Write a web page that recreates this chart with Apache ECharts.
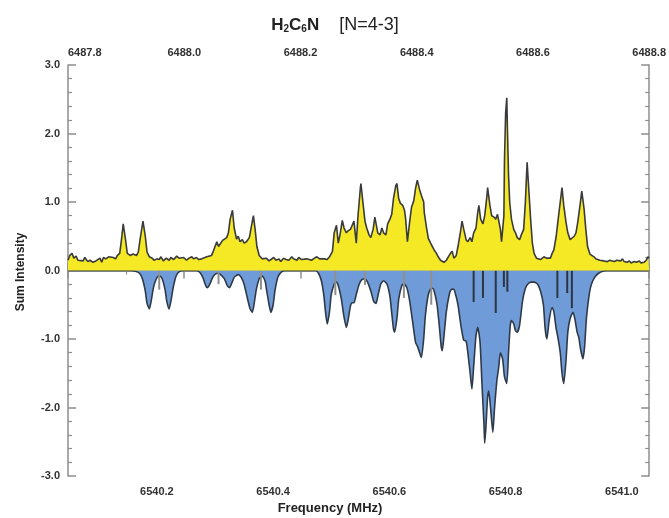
<!DOCTYPE html>
<html><head><meta charset="utf-8">
<script src="https://cdn.jsdelivr.net/npm/echarts@6/dist/echarts.min.js"></script>
<style>html,body{margin:0;padding:0;background:#fff}#c{width:669px;height:518px}</style>
</head><body><div id="c"></div>
<script>
// ---- data ----
const bottomRange = [6540.047, 6541.047];   // Frequency (MHz), lower axis
const topRange = [6487.8, 6488.8];          // upper axis
const intensityRange = [-3, 3];

const obsFreq = [6540.047,6540.050,6540.054,6540.057,6540.061,6540.064,6540.067,6540.073,6540.076,6540.081,6540.085,6540.090,6540.095,6540.098,6540.102,6540.105,6540.108,6540.112,6540.117,6540.120,6540.125,6540.129,6540.132,6540.136,6540.139,6540.142,6540.146,6540.149,6540.154,6540.159,6540.165,6540.168,6540.171,6540.176,6540.180,6540.183,6540.187,6540.192,6540.195,6540.200,6540.204,6540.207,6540.211,6540.216,6540.221,6540.224,6540.229,6540.234,6540.238,6540.241,6540.246,6540.251,6540.255,6540.260,6540.263,6540.268,6540.272,6540.277,6540.280,6540.286,6540.289,6540.294,6540.297,6540.303,6540.306,6540.309,6540.313,6540.316,6540.320,6540.323,6540.326,6540.330,6540.333,6540.337,6540.340,6540.343,6540.347,6540.350,6540.354,6540.359,6540.362,6540.366,6540.369,6540.372,6540.376,6540.381,6540.384,6540.388,6540.393,6540.396,6540.401,6540.405,6540.410,6540.413,6540.418,6540.422,6540.427,6540.432,6540.435,6540.441,6540.444,6540.449,6540.452,6540.458,6540.461,6540.466,6540.471,6540.475,6540.480,6540.483,6540.488,6540.493,6540.497,6540.502,6540.505,6540.509,6540.512,6540.515,6540.519,6540.522,6540.526,6540.529,6540.533,6540.536,6540.539,6540.543,6540.546,6540.550,6540.551,6540.555,6540.558,6540.561,6540.565,6540.568,6540.572,6540.575,6540.577,6540.580,6540.584,6540.587,6540.590,6540.594,6540.597,6540.601,6540.604,6540.607,6540.611,6540.613,6540.616,6540.619,6540.623,6540.626,6540.628,6540.631,6540.635,6540.638,6540.642,6540.645,6540.648,6540.652,6540.655,6540.659,6540.660,6540.664,6540.667,6540.671,6540.674,6540.677,6540.681,6540.684,6540.688,6540.691,6540.694,6540.698,6540.701,6540.705,6540.708,6540.711,6540.715,6540.718,6540.722,6540.725,6540.728,6540.732,6540.735,6540.739,6540.742,6540.745,6540.749,6540.752,6540.754,6540.757,6540.761,6540.764,6540.768,6540.769,6540.773,6540.776,6540.780,6540.783,6540.786,6540.788,6540.791,6540.793,6540.797,6540.798,6540.800,6540.802,6540.803,6540.805,6540.807,6540.810,6540.814,6540.817,6540.820,6540.824,6540.827,6540.831,6540.834,6540.836,6540.837,6540.839,6540.843,6540.846,6540.849,6540.853,6540.856,6540.860,6540.863,6540.866,6540.870,6540.873,6540.877,6540.880,6540.883,6540.887,6540.890,6540.894,6540.897,6540.900,6540.904,6540.907,6540.911,6540.914,6540.918,6540.921,6540.924,6540.928,6540.931,6540.935,6540.938,6540.941,6540.945,6540.948,6540.952,6540.955,6540.958,6540.962,6540.965,6540.969,6540.972,6540.975,6540.979,6540.982,6540.987,6540.991,6540.994,6540.998,6541.001,6541.004,6541.009,6541.013,6541.016,6541.021,6541.025,6541.030,6541.033,6541.038,6541.042,6541.045,6541.047];
const obsIntensity = [0.15,0.22,0.25,0.18,0.21,0.15,0.17,0.14,0.19,0.13,0.15,0.12,0.14,0.13,0.18,0.12,0.19,0.17,0.20,0.18,0.19,0.17,0.22,0.25,0.45,0.68,0.45,0.25,0.22,0.24,0.22,0.27,0.45,0.72,0.50,0.27,0.20,0.18,0.15,0.17,0.16,0.20,0.14,0.18,0.15,0.19,0.16,0.21,0.18,0.16,0.19,0.15,0.18,0.20,0.17,0.19,0.16,0.17,0.16,0.20,0.21,0.22,0.28,0.42,0.35,0.33,0.44,0.45,0.48,0.55,0.75,0.88,0.62,0.46,0.50,0.42,0.45,0.40,0.42,0.48,0.62,0.80,0.60,0.35,0.22,0.17,0.15,0.18,0.14,0.16,0.19,0.15,0.17,0.13,0.18,0.16,0.15,0.20,0.17,0.15,0.19,0.16,0.14,0.17,0.18,0.15,0.18,0.20,0.17,0.15,0.17,0.16,0.20,0.28,0.55,0.66,0.40,0.52,0.73,0.62,0.55,0.58,0.60,0.66,0.72,0.40,0.80,1.20,1.27,0.95,0.72,0.62,0.52,0.48,0.60,0.78,0.80,0.55,0.52,0.62,0.55,0.52,0.68,0.75,0.82,1.05,1.24,1.27,1.05,0.98,0.95,0.88,0.75,0.42,0.72,0.92,1.02,1.20,1.32,1.18,1.10,1.00,0.85,0.62,0.47,0.40,0.35,0.30,0.25,0.20,0.15,0.14,0.12,0.15,0.13,0.25,0.28,0.18,0.22,0.35,0.55,0.72,0.60,0.45,0.42,0.48,0.42,0.55,0.62,0.85,0.95,0.75,0.68,0.80,1.10,1.21,0.95,0.80,0.78,0.75,0.82,0.84,0.60,0.42,0.80,1.60,2.30,2.52,2.10,1.40,1.00,0.75,0.60,0.55,0.48,0.45,0.52,0.60,1.00,1.40,1.58,1.30,0.75,0.40,0.25,0.18,0.20,0.16,0.17,0.20,0.18,0.16,0.18,0.25,0.30,0.50,0.72,1.00,1.21,0.95,0.70,0.55,0.45,0.44,0.50,0.55,0.70,0.95,1.16,0.90,0.60,0.35,0.24,0.22,0.20,0.17,0.18,0.15,0.16,0.14,0.15,0.13,0.15,0.14,0.13,0.15,0.13,0.14,0.17,0.13,0.12,0.14,0.11,0.13,0.12,0.14,0.11,0.12,0.15,0.20,0.18];

const simFreq = [6540.047,6540.153,6540.163,6540.170,6540.175,6540.180,6540.183,6540.187,6540.190,6540.194,6540.199,6540.204,6540.209,6540.214,6540.217,6540.221,6540.224,6540.228,6540.233,6540.238,6540.246,6540.268,6540.274,6540.279,6540.284,6540.287,6540.291,6540.296,6540.301,6540.306,6540.311,6540.316,6540.321,6540.325,6540.328,6540.333,6540.340,6540.345,6540.350,6540.355,6540.360,6540.364,6540.367,6540.371,6540.376,6540.381,6540.386,6540.389,6540.393,6540.396,6540.400,6540.403,6540.408,6540.413,6540.420,6540.473,6540.478,6540.483,6540.487,6540.490,6540.493,6540.497,6540.500,6540.505,6540.509,6540.512,6540.517,6540.522,6540.526,6540.529,6540.533,6540.536,6540.539,6540.543,6540.548,6540.553,6540.558,6540.563,6540.568,6540.573,6540.577,6540.580,6540.585,6540.590,6540.596,6540.601,6540.604,6540.607,6540.609,6540.613,6540.616,6540.621,6540.625,6540.630,6540.635,6540.640,6540.645,6540.648,6540.652,6540.655,6540.659,6540.662,6540.667,6540.671,6540.674,6540.677,6540.682,6540.686,6540.689,6540.691,6540.694,6540.698,6540.703,6540.706,6540.710,6540.713,6540.718,6540.723,6540.728,6540.732,6540.735,6540.739,6540.742,6540.745,6540.749,6540.752,6540.756,6540.759,6540.763,6540.764,6540.766,6540.769,6540.771,6540.774,6540.778,6540.781,6540.785,6540.788,6540.791,6540.795,6540.798,6540.802,6540.805,6540.808,6540.810,6540.814,6540.817,6540.820,6540.824,6540.829,6540.834,6540.839,6540.844,6540.849,6540.855,6540.860,6540.865,6540.868,6540.871,6540.875,6540.880,6540.883,6540.887,6540.890,6540.894,6540.897,6540.900,6540.904,6540.907,6540.911,6540.916,6540.919,6540.923,6540.926,6540.929,6540.933,6540.936,6540.939,6540.943,6540.946,6540.950,6540.955,6540.960,6540.967,6540.974,6541.047];
const simIntensity = [0,0,-0.01,-0.04,-0.12,-0.30,-0.48,-0.56,-0.45,-0.25,-0.12,-0.07,-0.12,-0.28,-0.45,-0.56,-0.45,-0.25,-0.08,-0.02,0,0,-0.03,-0.10,-0.22,-0.25,-0.20,-0.10,-0.05,-0.04,-0.07,-0.12,-0.22,-0.25,-0.20,-0.10,-0.06,-0.10,-0.20,-0.38,-0.55,-0.61,-0.50,-0.28,-0.12,-0.08,-0.15,-0.30,-0.50,-0.61,-0.50,-0.30,-0.10,-0.03,0,0,-0.04,-0.15,-0.35,-0.60,-0.78,-0.60,-0.35,-0.20,-0.17,-0.22,-0.40,-0.68,-0.83,-0.72,-0.52,-0.47,-0.47,-0.35,-0.20,-0.13,-0.12,-0.18,-0.30,-0.45,-0.48,-0.38,-0.20,-0.15,-0.20,-0.38,-0.62,-0.85,-0.90,-0.70,-0.42,-0.23,-0.19,-0.25,-0.45,-0.75,-1.05,-1.10,-1.20,-1.27,-1.00,-0.65,-0.35,-0.27,-0.26,-0.30,-0.50,-0.82,-1.10,-1.17,-0.95,-0.60,-0.35,-0.28,-0.27,-0.32,-0.50,-0.80,-1.02,-1.03,-1.20,-1.50,-1.73,-1.40,-0.95,-0.83,-1.05,-1.60,-2.30,-2.52,-2.30,-1.85,-1.76,-2.00,-2.36,-2.00,-1.60,-1.42,-1.20,-1.30,-1.55,-1.65,-1.20,-0.80,-0.73,-0.78,-0.88,-0.90,-0.80,-0.45,-0.26,-0.19,-0.17,-0.17,-0.20,-0.30,-0.50,-0.85,-1.00,-0.72,-0.54,-0.60,-0.85,-0.98,-1.20,-1.50,-1.65,-1.30,-0.90,-0.70,-0.61,-0.70,-0.90,-0.98,-1.15,-1.29,-1.10,-0.70,-0.40,-0.25,-0.15,-0.08,-0.04,-0.01,0,0];

const stickFreqDark = [6540.745,6540.761,6540.783,6540.797,6540.803,6540.889,6540.906,6540.914];
const stickDepthDark = [-0.46,-0.40,-0.62,-0.24,-0.31,-0.40,-0.33,-0.55];
const stickFreqGray = [6540.204,6540.306,6540.379,6540.507,6540.558,6540.625,6540.672];
const stickDepthGray = [-0.28,-0.20,-0.28,-0.36,-0.21,-0.40,-0.50];

// ---- chart ----
const zip = (a, b) => a.map((v, i) => [v, b[i]]);
const FONT = '"Liberation Sans Narrow","Liberation Sans",Arial,sans-serif';
const AX = '#8e8e8e';
const lbl = {color: '#333', fontWeight: 'bold', fontSize: 11, fontFamily: FONT};

const chart = echarts.init(document.getElementById('c'), null, {renderer: 'canvas'});
chart.setOption({
  animation: false,
  backgroundColor: '#fff',
  grid: {left: 68, right: 14, top: 65, bottom: 42},
  xAxis: [
    {type: 'value', position: 'bottom', min: bottomRange[0], max: bottomRange[1], splitNumber: 5,
     axisLine: {lineStyle: {color: AX, width: 1.5}},
     axisTick: {inside: true, length: 8, lineStyle: {color: AX, width: 1.5}},
     minorTick: {show: true, splitNumber: 2, length: 4, lineStyle: {color: AX, width: 1.2}},
     splitLine: {show: false},
     axisLabel: Object.assign({margin: 10, showMinLabel: false, showMaxLabel: false, formatter: v => v.toFixed(1)}, lbl)},
    {type: 'value', position: 'top', min: topRange[0], max: topRange[1], interval: 0.2,
     axisLine: {lineStyle: {color: AX, width: 1.5}},
     axisTick: {inside: true, length: 8, lineStyle: {color: AX, width: 1.5}},
     minorTick: {show: true, splitNumber: 2, length: 4, lineStyle: {color: AX, width: 1.2}},
     splitLine: {show: false},
     axisLabel: Object.assign({margin: 7, formatter: v => v.toFixed(1), alignMinLabel: 'left'}, lbl)}
  ],
  yAxis: [
    {type: 'value', position: 'left', min: intensityRange[0], max: intensityRange[1], interval: 1,
     axisLine: {show: true, lineStyle: {color: AX, width: 1.5}},
     axisTick: {show: true, inside: true, length: 8, lineStyle: {color: AX, width: 1.5}},
     minorTick: {show: true, splitNumber: 5, length: 4, lineStyle: {color: AX, width: 1.2}},
     splitLine: {show: false},
     axisLabel: Object.assign({margin: 8, formatter: v => v.toFixed(1)}, lbl)},
    {type: 'value', position: 'right', min: intensityRange[0], max: intensityRange[1], interval: 1,
     axisLine: {show: true, lineStyle: {color: AX, width: 1.5}},
     axisTick: {show: true, inside: true, length: 8, lineStyle: {color: AX, width: 1.5}},
     minorTick: {show: true, splitNumber: 5, length: 4, lineStyle: {color: AX, width: 1.2}},
     splitLine: {show: false},
     axisLabel: {show: false}}
  ],
  series: [
    {type: 'line', name: 'simulated', xAxisIndex: 0, yAxisIndex: 0, data: zip(simFreq, simIntensity),
     showSymbol: false, symbol: 'none', smooth: 0.2, z: 2,
     lineStyle: {color: '#2f3a48', width: 1.6},
     areaStyle: {color: '#6f9bd9', opacity: 1}},
    {type: 'bar', name: 'sticksGray', xAxisIndex: 0, yAxisIndex: 0, data: zip(stickFreqGray, stickDepthGray),
     barWidth: 2, barGap: '-100%', z: 3, itemStyle: {color: '#8f8f8f'}},
    {type: 'bar', name: 'sticksDark', xAxisIndex: 0, yAxisIndex: 0, data: zip(stickFreqDark, stickDepthDark),
     barWidth: 2, barGap: '-100%', z: 3, itemStyle: {color: '#2c3642'}},
    {type: 'line', name: 'observed', xAxisIndex: 0, yAxisIndex: 0, data: zip(obsFreq, obsIntensity),
     showSymbol: false, symbol: 'none', smooth: false, z: 4,
     lineStyle: {color: '#3b3b3b', width: 1.6},
     areaStyle: {color: '#f4e924', opacity: 1}}
  ],
  graphic: [
    {type: 'text', x: 335, y: 23, style: {
      text: '{b|H}{s|2}{b|C}{s|6}{b|N}{n|    [N=4-3]}', align: 'center', verticalAlign: 'middle',
      rich: {
        b: {fontFamily: FONT, fontWeight: 'bold', fontSize: 17, fill: '#222', lineHeight: 22, verticalAlign: 'bottom'},
        s: {fontFamily: FONT, fontWeight: 'bold', fontSize: 10, fill: '#222', lineHeight: 10, verticalAlign: 'bottom'},
        n: {fontFamily: FONT, fontSize: 18, fill: '#222', lineHeight: 22, verticalAlign: 'bottom'}
      }}},
    {type: 'text', x: 21, y: 272, rotation: Math.PI / 2, style: {
      text: 'Sum Intensity', align: 'center', verticalAlign: 'middle',
      font: 'bold 12px ' + FONT, fill: '#222'}},
    {type: 'text', x: 330, y: 508, style: {
      text: 'Frequency (MHz)', align: 'center', verticalAlign: 'middle',
      font: 'bold 13px ' + FONT, fill: '#222'}}
  ]
});
</script>
</body></html>
